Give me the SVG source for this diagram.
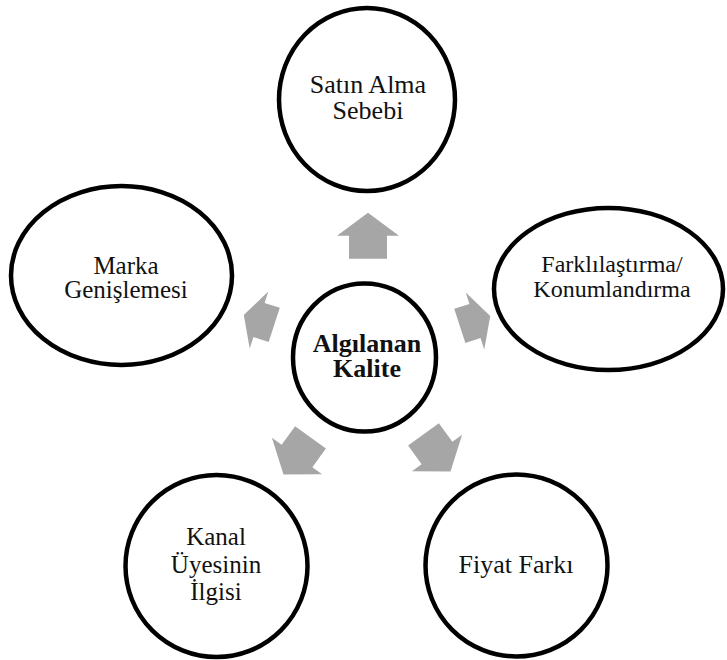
<svg xmlns="http://www.w3.org/2000/svg" width="727" height="660" viewBox="0 0 727 660">
  <defs>
    <style>
      .node { fill: #ffffff; stroke: #000000; stroke-width: 4.5; }
      .label { font-family: "Liberation Serif", "Times New Roman", serif; fill: #111111; text-anchor: middle; }
      .bold { font-weight: bold; }
      .arrow { fill: #A6A6A6; stroke: none; }
    </style>
    <!-- block arrows pointing up, origin at the head base centre -->
    <polygon id="arrow-long" points="0,-23 31,0 19,0 19,23 -19,23 -19,0 -31,0"/>
    <polygon id="arrow-short" points="0,-16 30,0 18,0 18,16 -18,16 -18,0 -30,0"/>
  </defs>
  <rect width="727" height="660" fill="#ffffff"/>

  <g id="connectors" class="arrow">
    <use href="#arrow-long" transform="translate(368,235.7)"/>
    <use href="#arrow-short" transform="translate(475,321) rotate(72)"/>
    <use href="#arrow-long" transform="translate(437,453) rotate(144)"/>
    <use href="#arrow-long" transform="translate(297,456) rotate(216)"/>
    <use href="#arrow-short" transform="translate(259,320) rotate(-72)"/>
  </g>

  <g id="node-center">
    <ellipse class="node" cx="364.5" cy="357.5" rx="71.5" ry="74"/>
    <text class="label bold" font-size="26" x="367" y="352">Algılanan</text>
    <text class="label bold" font-size="26" x="367" y="377">Kalite</text>
  </g>

  <g id="node-satin-alma">
    <ellipse class="node" cx="367" cy="99.5" rx="88" ry="91.5"/>
    <text class="label" font-size="26" x="368" y="93">Satın Alma</text>
    <text class="label" font-size="26" x="368" y="119">Sebebi</text>
  </g>

  <g id="node-farklilastirma">
    <ellipse class="node" cx="608.5" cy="289" rx="114.5" ry="81"/>
    <text class="label" font-size="24" x="612" y="272">Farklılaştırma/</text>
    <text class="label" font-size="24" x="612" y="297">Konumlandırma</text>
  </g>

  <g id="node-fiyat-farki">
    <circle class="node" cx="516.5" cy="565.5" r="91"/>
    <text class="label" font-size="26" x="516" y="573">Fiyat Farkı</text>
  </g>

  <g id="node-kanal">
    <circle class="node" cx="216.5" cy="566" r="91"/>
    <text class="label" font-size="25" x="216" y="545">Kanal</text>
    <text class="label" font-size="25" x="216" y="573">Üyesinin</text>
    <text class="label" font-size="25" x="216" y="600">İlgisi</text>
  </g>

  <g id="node-marka">
    <ellipse class="node" cx="121.5" cy="275.5" rx="110.5" ry="89.5"/>
    <text class="label" font-size="25" x="126" y="274">Marka</text>
    <text class="label" font-size="25" x="126" y="298">Genişlemesi</text>
  </g>
</svg>
